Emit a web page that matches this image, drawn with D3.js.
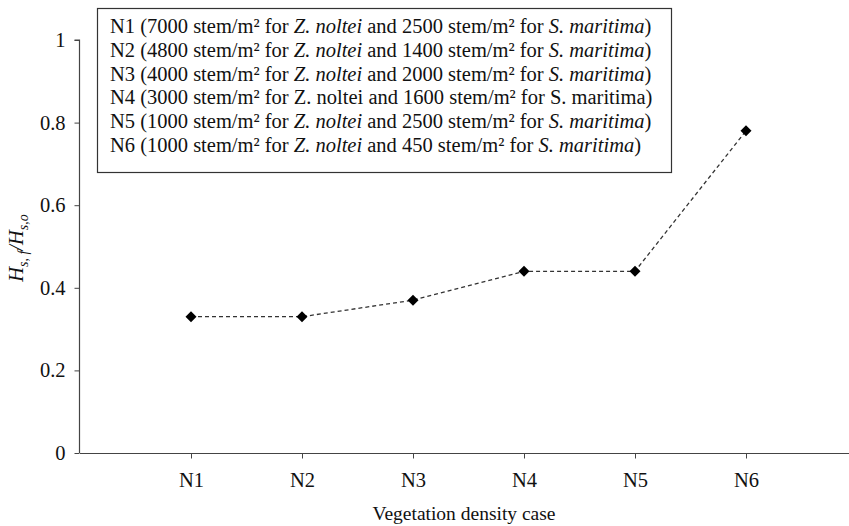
<!DOCTYPE html>
<html>
<head>
<meta charset="utf-8">
<script src="https://cdn.jsdelivr.net/npm/d3@7"></script>
<style>
  html, body { margin: 0; padding: 0; background: #fff; }
  svg { display: block; }
  svg text { font-family: "Liberation Serif", "Times New Roman", serif; }
</style>
</head>
<body>
<svg id="chart" width="849" height="526"></svg>
<script>
// Wave height ratio per vegetation density case
const categories = ["N1", "N2", "N3", "N4", "N5", "N6"];
const ratios = [0.33, 0.33, 0.37, 0.44, 0.44, 0.78];
const yTicks = [0, 0.2, 0.4, 0.6, 0.8, 1];

// Legend rows: case, Z. noltei density, S. maritima density, italic species names
const legendCases = ["N1", "N2", "N3", "N4", "N5", "N6"];
const zNolteiDensity = [7000, 4800, 4000, 3000, 1000, 1000];
const sMaritimaDensity = [2500, 1400, 2000, 1600, 2500, 450];
const italicNames = [true, true, true, false, true, true];

const svg = d3.select("#chart");
const FS = 20.5;

const x = d3.scaleLinear().domain([0, 7]).range([80, 857]);
const y = d3.scaleLinear().domain([0, 1]).range([453, 40]);

// Y axis
const yAxis = d3.axisLeft(y).tickValues(yTicks).tickSize(5).tickPadding(9)
  .tickFormat(d => d === 0 || d === 1 ? String(d) : d3.format(".1f")(d));
const gy = svg.append("g").attr("transform", `translate(${x(0) - 0.5},0)`).call(yAxis);
gy.attr("font-family", null);
gy.select(".domain").attr("stroke", "#444").attr("stroke-width", 1.2).attr("d", `M-5,${y(1)}H0V${y(0)}`);
gy.selectAll(".tick line").attr("stroke", "#444");
gy.selectAll(".tick text").attr("font-size", FS).attr("fill", "#111");

// X axis (category positions)
const xAxis = d3.axisBottom(x).tickValues(d3.range(1, categories.length + 1))
  .tickSize(5).tickPadding(14).tickFormat(d => categories[d - 1]);
const gx = svg.append("g").attr("transform", `translate(0,${y(0) + 0.5})`).call(xAxis);
gx.attr("font-family", null);
gx.select(".domain").attr("stroke", "#444").attr("stroke-width", 1.2).attr("d", `M${x(0)},0H849`);
gx.selectAll(".tick line").attr("stroke", "#444");
gx.selectAll(".tick text").attr("font-size", FS).attr("fill", "#111");

// Axis titles
svg.append("text")
  .attr("x", 464).attr("y", 520)
  .attr("text-anchor", "middle").attr("font-size", 19.5).attr("fill", "#111")
  .text("Vegetation density case");

const yTitle = svg.append("text")
  .attr("transform", `translate(23,248) rotate(-90)`)
  .attr("text-anchor", "middle").attr("font-size", FS).attr("fill", "#111")
  .attr("font-style", "italic");
yTitle.append("tspan").text("H");
yTitle.append("tspan").attr("font-size", 14).attr("dy", 5).text("s, f");
yTitle.append("tspan").attr("dy", -5).text("/H");
yTitle.append("tspan").attr("font-size", 14).attr("dy", 5).text("s,o");

// Dashed series line
const pts = ratios.map((v, i) => [x(i + 1), y(v)]);
svg.append("path")
  .attr("d", d3.line()(pts))
  .attr("fill", "none").attr("stroke", "#333").attr("stroke-width", 1.3)
  .attr("stroke-dasharray", "4,3");

// Diamond markers
svg.selectAll(".mk").data(ratios).join("path")
  .attr("class", "mk")
  .attr("transform", (d, i) => `translate(${x(i + 1)},${y(d)})`)
  .attr("d", "M0,-5.5L5.5,0L0,5.5L-5.5,0Z")
  .attr("fill", "#000");

// Legend box
const lg = svg.append("g");
lg.append("rect")
  .attr("x", 97.5).attr("y", 8.5).attr("width", 574).attr("height", 164)
  .attr("fill", "#fff").attr("stroke", "#333").attr("stroke-width", 1.2);

legendCases.forEach((c, i) => {
  const t = lg.append("text")
    .attr("x", 110).attr("y", 33 + i * 23.8)
    .attr("font-size", FS).attr("fill", "#111");
  const it = italicNames[i] ? "italic" : "normal";
  t.append("tspan").text(`${c} (${zNolteiDensity[i]} stem/m² for `);
  t.append("tspan").attr("font-style", it).text("Z.");
  t.append("tspan").text(" ");
  t.append("tspan").attr("font-style", it).text("noltei");
  t.append("tspan").text(` and ${sMaritimaDensity[i]} stem/m² for `);
  t.append("tspan").attr("font-style", it).text("S. maritima");
  t.append("tspan").text(")");
});
</script>
</body>
</html>
